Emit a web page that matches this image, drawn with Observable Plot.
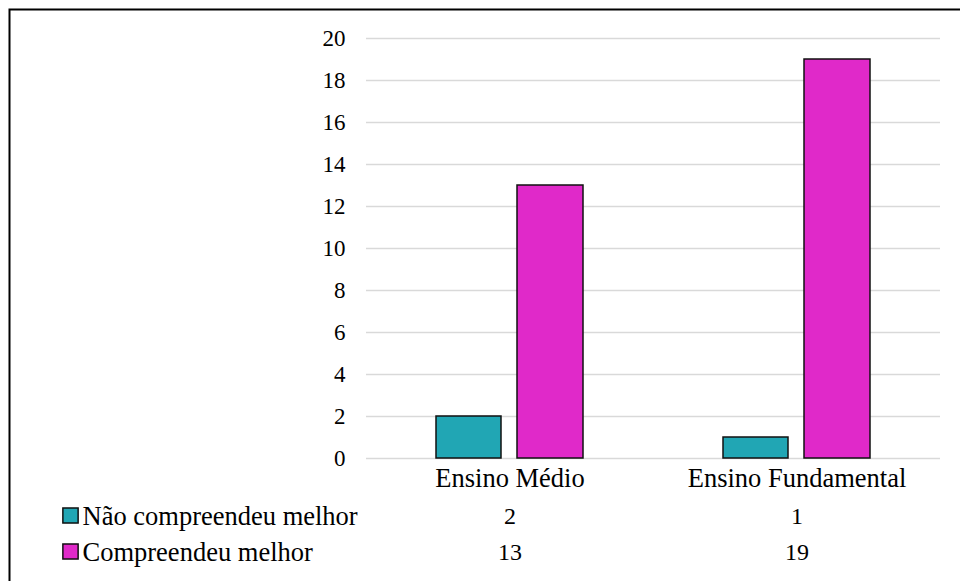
<!DOCTYPE html>
<html>
<head>
<meta charset="utf-8">
<script src="https://cdn.jsdelivr.net/npm/d3@7"></script>
<script src="https://cdn.jsdelivr.net/npm/@observablehq/plot@0.6"></script>
<style>
  html, body { margin: 0; padding: 0; background: #fff; }
  #chart svg { display: block; }
  #chart svg text { font-family: 'Liberation Serif', 'Times New Roman', serif !important; }
</style>
</head>
<body>
<div id="chart"></div>
<script>
const categories = ["Ensino Médio", "Ensino Fundamental"];
const seriesNames = ["Não compreendeu melhor", "Compreendeu melhor"];
const naoCompreendeu = [2, 1];
const compreendeu = [13, 19];
const seriesColors = ["#21a6b4", "#e029c9"];
const yTicks = [0, 2, 4, 6, 8, 10, 12, 14, 16, 18, 20];

const seriesValues = [naoCompreendeu, compreendeu];
const rows = seriesNames.map((name, s) => categories.map((c, i) => ({category: c, series: name, value: seriesValues[s][i]})));

// bar placement within each category band (band width ≈ 287px)
const barInsets = [
  {insetLeft: 70, insetRight: 152},
  {insetLeft: 151, insetRight: 70}
];
const rowOffsets = [58, 94];

const font = "'Liberation Serif', 'Times New Roman', serif";

const marks = [
  Plot.gridY(yTicks, {stroke: "#d9d9d9", strokeOpacity: 1, strokeWidth: 1.5}),
  Plot.axisY(yTicks, {tickSize: 0, tickPadding: 21, fontSize: 23, fontFamily: font, label: null}),
  Plot.axisX({tickSize: 0, tickPadding: 10, fontSize: 26.5, fontFamily: font, label: null})
];

rows.forEach((data, s) => {
  marks.push(Plot.barY(data, {
    x: "category", y: "value",
    fill: seriesColors[s], stroke: "#111", strokeWidth: 1.5,
    ...barInsets[s]
  }));
  // data table values
  marks.push(Plot.text(data, {
    x: "category", text: d => String(d.value),
    frameAnchor: "bottom", dy: rowOffsets[s], lineAnchor: "middle",
    fontSize: 24, fontFamily: font, fill: "#000"
  }));
  // data table row labels with legend keys
  marks.push(Plot.dot([seriesNames[s]], {
    frameAnchor: "bottom-left", dx: -296, dy: rowOffsets[s] - 1,
    symbol: "square", r: 8.6, fill: seriesColors[s], stroke: "#111", strokeWidth: 1.5
  }));
  marks.push(Plot.text([seriesNames[s]], {
    text: d => d,
    frameAnchor: "bottom-left", dx: -284, dy: rowOffsets[s], lineAnchor: "middle",
    textAnchor: "start", fontSize: 26.5, fontFamily: font, fill: "#000"
  }));
});

// chart area border (right and bottom edges fall outside the picture)
marks.push(Plot.frame({stroke: "#000", strokeWidth: 2, insetLeft: -357, insetTop: -29, insetRight: -60, insetBottom: -160}));

const chart = Plot.plot({
  width: 960,
  height: 581,
  marginLeft: 366,
  marginRight: 20,
  marginTop: 38,
  marginBottom: 123,
  style: {fontFamily: font, fontSize: "24px", color: "#000", background: "#fff", overflow: "hidden"},
  x: {type: "band", domain: categories, padding: 0},
  y: {domain: [0, 20]},
  marks
});
document.getElementById("chart").appendChild(chart);
</script>
</body>
</html>
